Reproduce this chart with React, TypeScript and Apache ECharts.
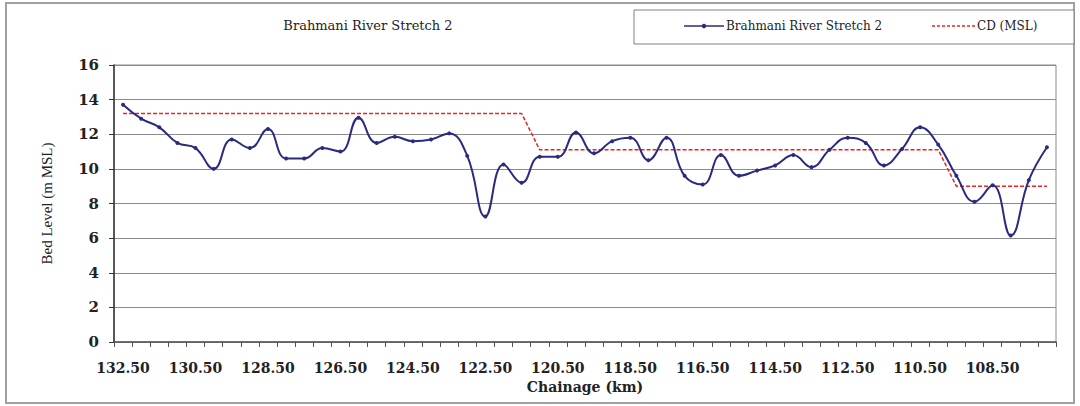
import React, { useEffect, useRef } from "react";
import * as echarts from "echarts";

const chartTitle = "Brahmani River Stretch 2";
const seriesNames = ["Brahmani River Stretch 2", "CD (MSL)"];

const chainage = [
  132.5, 132.0, 131.5, 131.0, 130.5, 130.0, 129.5, 129.0, 128.5, 128.0,
  127.5, 127.0, 126.5, 126.0, 125.5, 125.0, 124.5, 124.0, 123.5, 123.0,
  122.5, 122.0, 121.5, 121.0, 120.5, 120.0, 119.5, 119.0, 118.5, 118.0,
  117.5, 117.0, 116.5, 116.0, 115.5, 115.0, 114.5, 114.0, 113.5, 113.0,
  112.5, 112.0, 111.5, 111.0, 110.5, 110.0, 109.5, 109.0, 108.5, 108.0,
  107.5, 107.0,
];

const bedLevel = [
  13.7, 12.9, 12.4, 11.5, 11.2, 10.0, 11.7, 11.2, 12.3, 10.6,
  10.6, 11.2, 11.0, 12.95, 11.5, 11.85, 11.6, 11.7, 12.05, 10.75,
  7.25, 10.25, 9.2, 10.7, 10.7, 12.1, 10.9, 11.6, 11.8, 10.5,
  11.8, 9.6, 9.1, 10.8, 9.6, 9.9, 10.2, 10.8, 10.1, 11.1,
  11.8, 11.5, 10.2, 11.15, 12.4, 11.4, 9.6, 8.1, 9.05, 6.15,
  9.35, 11.25,
];

const cdLevel = [
  13.2, 13.2, 13.2, 13.2, 13.2, 13.2, 13.2, 13.2, 13.2, 13.2,
  13.2, 13.2, 13.2, 13.2, 13.2, 13.2, 13.2, 13.2, 13.2, 13.2,
  13.2, 13.2, 13.2, 11.1, 11.1, 11.1, 11.1, 11.1, 11.1, 11.1,
  11.1, 11.1, 11.1, 11.1, 11.1, 11.1, 11.1, 11.1, 11.1, 11.1,
  11.1, 11.1, 11.1, 11.1, 11.1, 11.1, 9.0, 9.0, 9.0, 9.0,
  9.0, 9.0,
];

const yAxisName = "Bed Level (m MSL)";
const xAxisName = "Chainage (km)";

const SERIF = "'DejaVu Serif', 'Liberation Serif', serif";
const BLUE = "#2a2a80";
const RED = "#ee2222";

export default function App() {
  const ref = useRef<HTMLDivElement>(null);

  useEffect(() => {
    if (!ref.current) return;
    const chart = echarts.init(ref.current, null, { renderer: "svg" });
    const legendY = 26;
    const option = {
      animation: false,
      backgroundColor: "#ffffff",
      graphic: [
        {
          type: "rect",
          shape: { x: 6, y: 3, width: 1068, height: 400 },
          style: { fill: "none", stroke: "#a0a0a0", lineWidth: 2 },
          silent: true,
          z: -10,
        },
        {
          type: "rect",
          shape: { x: 634, y: 10, width: 440, height: 34 },
          style: { fill: "#ffffff", stroke: "#808080", lineWidth: 1 },
          silent: true,
          z: -5,
        },
        {
          type: "text",
          x: 368,
          y: 25,
          style: {
            text: chartTitle,
            fontFamily: SERIF,
            fontSize: 13,
            fill: "#222",
            align: "center",
            verticalAlign: "middle",
          },
        },
        {
          type: "line",
          shape: { x1: 684, y1: legendY, x2: 724, y2: legendY },
          style: { stroke: BLUE, lineWidth: 1.5 },
        },
        {
          type: "circle",
          shape: { cx: 704, cy: legendY, r: 2.2 },
          style: { fill: BLUE },
        },
        {
          type: "text",
          x: 726,
          y: legendY,
          style: {
            text: seriesNames[0],
            fontFamily: SERIF,
            fontSize: 12,
            fill: "#222",
            align: "left",
            verticalAlign: "middle",
          },
        },
        {
          type: "line",
          shape: { x1: 932, y1: legendY, x2: 975, y2: legendY },
          style: { stroke: RED, lineWidth: 1.5, lineDash: [3, 2] },
        },
        {
          type: "text",
          x: 977,
          y: legendY,
          style: {
            text: seriesNames[1],
            fontFamily: SERIF,
            fontSize: 12,
            fill: "#222",
            align: "left",
            verticalAlign: "middle",
          },
        },
      ],
      grid: {
        left: 114,
        right: 24,
        top: 65,
        bottom: 64,
        show: true,
        borderColor: "#888",
        borderWidth: 1,
        containLabel: false,
      },
      xAxis: {
        type: "category",
        data: chainage.map((v) => v.toFixed(2)),
        boundaryGap: true,
        name: xAxisName,
        nameLocation: "middle",
        nameGap: 31,
        nameTextStyle: {
          fontFamily: SERIF,
          fontSize: 14,
          fontWeight: "bold",
          color: "#222",
        },
        axisLine: { lineStyle: { color: "#555", width: 1.5 } },
        axisTick: {
          show: true,
          inside: false,
          length: 5,
          interval: 0,
          lineStyle: { color: "#555" },
        },
        axisLabel: {
          interval: 3,
          margin: 19,
          fontFamily: SERIF,
          fontSize: 14,
          fontWeight: "bold",
          color: "#222",
        },
        splitLine: { show: false },
      },
      yAxis: {
        type: "value",
        min: 0,
        max: 16,
        interval: 2,
        name: yAxisName,
        nameLocation: "middle",
        nameGap: 60,
        nameTextStyle: {
          fontFamily: "'Liberation Serif', serif",
          fontSize: 15,
          color: "#222",
        },
        axisLine: { show: true, lineStyle: { color: "#333", width: 1.5 } },
        axisTick: { show: true, inside: false, length: 5, lineStyle: { color: "#333" } },
        axisLabel: {
          margin: 15,
          fontFamily: SERIF,
          fontSize: 15,
          fontWeight: "bold",
          color: "#222",
        },
        splitLine: { show: true, lineStyle: { color: "#8c8c8c", width: 1.2 } },
      },
      series: [
        {
          name: seriesNames[0],
          type: "line",
          data: bedLevel,
          smooth: 0.45,
          symbol: "circle",
          symbolSize: 4,
          lineStyle: { color: BLUE, width: 2 },
          itemStyle: { color: BLUE },
          z: 3,
        },
        {
          name: seriesNames[1],
          type: "line",
          data: cdLevel,
          smooth: false,
          symbol: "none",
          lineStyle: { color: RED, width: 1.5, type: [4, 2] },
          itemStyle: { color: RED },
          z: 2,
        },
      ],
    };
    chart.setOption(option);
    return () => chart.dispose();
  }, []);

  return (
    <div
      ref={ref}
      style={{ position: "absolute", left: 0, top: 0, width: 1080, height: 406 }}
    />
  );
}
